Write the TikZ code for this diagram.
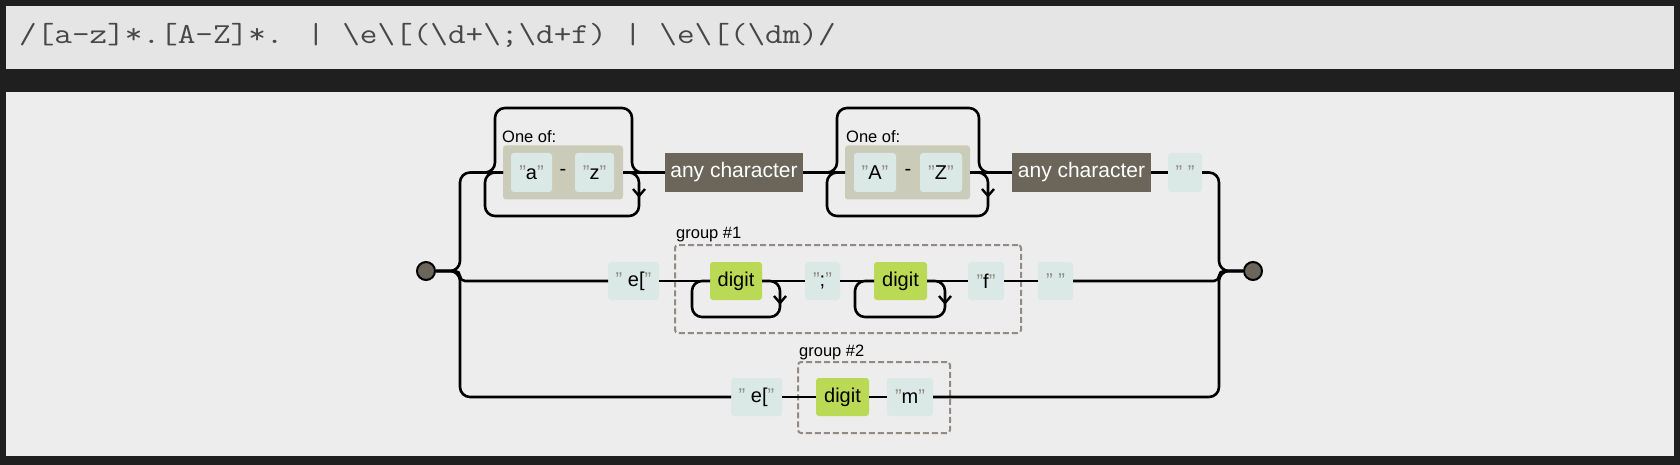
\documentclass[tikz,border=0pt]{standalone}
\usepackage{fontspec}
\setmainfont{Liberation Sans}
\definecolor{bgdark}{HTML}{1F1F1F}
\definecolor{barc}{HTML}{E5E5E5}
\definecolor{panelc}{HTML}{EDEDED}
\definecolor{litc}{HTML}{DAE9E5}
\definecolor{setc}{HTML}{CBCBBA}
\definecolor{anyc}{HTML}{6B6659}
\definecolor{escc}{HTML}{BADA55}
\definecolor{grpc}{HTML}{908C83}
\definecolor{quotec}{HTML}{908C83}
\newcommand{\qq}{\textcolor{quotec}{"}}
\tikzset{
  rail/.style={line width=2.6pt, black, rounded corners=10pt},
  railsm/.style={line width=2.6pt, black, rounded corners=5pt},
  chev/.style={line width=2.4pt, black, line join=miter},
  boxbase/.style={inner sep=0pt, outer sep=0pt, font=\fontsize{20}{20}\selectfont},
  lit/.style={boxbase, fill=litc, rounded corners=3pt, minimum height=39pt},
  esc/.style={boxbase, fill=escc, rounded corners=3pt, minimum height=39pt},
  anych/.style={boxbase, fill=anyc, text=white, minimum height=39pt, font=\fontsize{21}{21}\selectfont},
  setbox/.style={boxbase, fill=setc, rounded corners=3pt, minimum height=54pt},
  grp/.style={draw=grpc, line width=2pt, dash pattern=on 6pt off 3pt, rounded corners=3pt, inner sep=0pt, minimum width=#1},
  lab/.style={inner sep=0pt, anchor=west, font=\fontsize{16.5}{16.5}\selectfont},
  term/.style={circle, draw=black, line width=2pt, fill=anyc, minimum size=18pt, inner sep=0pt}
}
\begin{document}
\begin{tikzpicture}[x=1pt,y=-1pt]
\useasboundingbox (0,0) rectangle (1680,465);
\fill[bgdark] (0,0) rectangle (1680,465);
\fill[barc] (6,6) rectangle (1674,69);
\fill[panelc] (6,92) rectangle (1674,456);
\node[anchor=base west, inner sep=0pt, text=black!72] (regex) at (19,44) {\scalebox{1.18}[1]{\ttfamily\fontsize{29}{29}\selectfont /[a-z]*.[A-Z]*. | \textbackslash e\textbackslash [(\textbackslash d+\textbackslash ;\textbackslash d+f) | \textbackslash e\textbackslash [(\textbackslash dm)/}};

% groups
\node[grp=346pt, minimum height=88pt] (g1) at (848,289) {};
\node[grp=152pt, minimum height=71pt] (g2) at (874,397.5) {};
\node[lab] (g1lab) at (676,235) {group \#1};
\node[lab] (g2lab) at (799,352) {group \#2};

% terminals
\node[term] (S) at (426,271) {};
\node[term] (E) at (1253,271) {};

% top row
\node[setbox, minimum width=120pt] (O1) at (563,172.5) {};
\node[lab] (O1lab) at (502,137) {One of:};
\node[lit, minimum width=41pt] (a1) at (531.5,172.5) {\qq a\qq};
\node[boxbase] (dash1) at (563,172.5) {-};
\node[lit, minimum width=39pt] (z1) at (594.5,172.5) {\qq z\qq};
\node[anych, minimum width=138pt] (any1) at (734,172.5) {any character};
\node[setbox, minimum width=125pt] (O2) at (907.5,172.5) {};
\node[lab] (O2lab) at (846,137) {One of:};
\node[lit, minimum width=42pt] (A2) at (875,172.5) {\qq A\qq};
\node[boxbase] (dash2) at (908,172.5) {-};
\node[lit, minimum width=42pt] (Z2) at (941,172.5) {\qq Z\qq};
\node[anych, minimum width=139pt] (any2) at (1081.5,172.5) {any character};
\node[lit, minimum width=34pt] (sp1) at (1185,172.5) {\qq\ \qq};

% middle row
\node[lit, minimum width=51pt, minimum height=38pt] (e1) at (633.5,281) {\qq\ e[\qq};
\node[esc, minimum width=52pt, minimum height=38pt] (d1) at (736,281) {digit};
\node[lit, minimum width=35pt, minimum height=38pt] (semi) at (822.5,281) {\qq;\qq};
\node[esc, minimum width=53pt, minimum height=38pt] (d2) at (900.5,281) {digit};
\node[lit, minimum width=36pt, minimum height=38pt] (f) at (986,281) {\qq f\qq};
\node[lit, minimum width=35pt, minimum height=38pt] (sp2) at (1055.5,281) {\qq\ \qq};

% bottom row
\node[lit, minimum width=51pt, minimum height=38pt] (e2) at (756.5,397) {\qq\ e[\qq};
\node[esc, minimum width=53pt, minimum height=38pt] (d3) at (842.5,397) {digit};
\node[lit, minimum width=46pt, minimum height=38pt] (m) at (910,397) {\qq m\qq};

% left fork
\draw[rail] (S.east) -- (460,271) -- (460,172.5) -- (O1.west);
\draw[railsm] (S.east) -- (460,271) -- (460,281) -- (e1.west);
\draw[rail] (S.east) -- (460,271) -- (460,397) -- (e2.west);
% right fork
\draw[rail] (sp1.east) -- (1219,172.5) -- (1219,271) -- (E.west);
\draw[railsm] (sp2.east) -- (1219,281) -- (1219,271) -- (E.west);
\draw[rail] (m.east) -- (1219,397) -- (1219,271) -- (E.west);

% top row connections
\draw[rail] (O1.east) -- (any1.west);
\draw[rail] (any1.east) -- (O2.west);
\draw[rail] (O2.east) -- (any2.west);
\draw[rail] (any2.east) -- (sp1.west);
% loops of first set
\draw[rail] (485,172.5) -- (495,172.5) -- (495,108) -- (632,108) -- (632,172.5) -- (642,172.5);
\draw[rail] (O1.east) -- (639,172.5) -- (639,216) -- (485,216) -- (485,172.5) -- (O1.west);
\draw[chev] (633,189) -- (639,196) -- (645,189);
% loops of second set
\draw[rail] (827,172.5) -- (837,172.5) -- (837,108) -- (979,108) -- (979,172.5) -- (989,172.5);
\draw[rail] (O2.east) -- (988,172.5) -- (988,216) -- (827,216) -- (827,172.5) -- (O2.west);
\draw[chev] (982,189) -- (988,196) -- (994,189);

% middle row connections
\draw[rail] (e1.east) -- (d1.west);
\draw[rail] (d1.east) -- (semi.west);
\draw[rail] (semi.east) -- (d2.west);
\draw[rail] (d2.east) -- (f.west);
\draw[rail] (f.east) -- (sp2.west);
\draw[rail] (d1.east) -- (780,281) -- (780,317) -- (692,317) -- (692,281) -- (d1.west);
\draw[chev] (774,296) -- (780,303) -- (786,296);
\draw[rail] (d2.east) -- (945,281) -- (945,317) -- (855,317) -- (855,281) -- (d2.west);
\draw[chev] (939,296) -- (945,303) -- (951,296);

% bottom row connections
\draw[rail] (e2.east) -- (d3.west);
\draw[rail] (d3.east) -- (m.west);
\end{tikzpicture}
\end{document}
